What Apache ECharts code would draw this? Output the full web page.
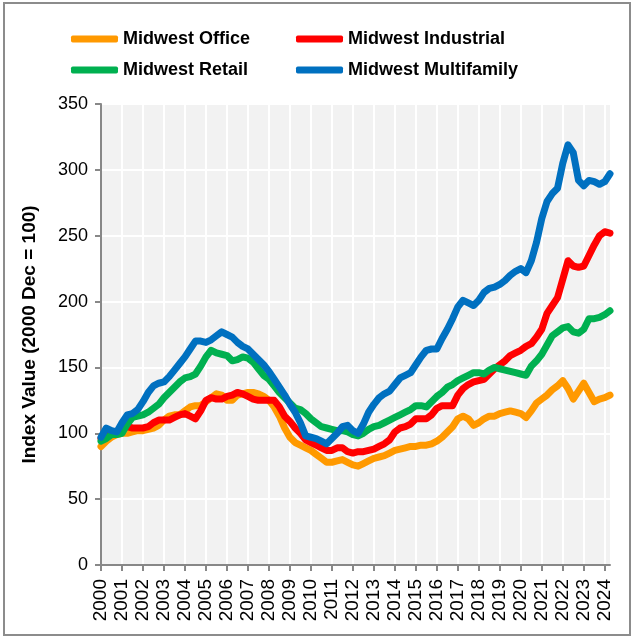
<!DOCTYPE html>
<html>
<head>
<meta charset="utf-8">
<script src="https://cdn.jsdelivr.net/npm/echarts@6/dist/echarts.min.js"></script>
<style>
  html, body { margin: 0; padding: 0; background: #fff; }
  #chart { width: 634px; height: 639px; }
</style>
</head>
<body>
<div id="chart"></div>
<script>
// 年份刻度（每年 4 个季度）
const years = ['2000','2001','2002','2003','2004','2005','2006','2007','2008','2009','2010','2011','2012',
  '2013','2014','2015','2016','2017','2018','2019','2020','2021','2022','2023','2024']

// 季度分类：2000Q1 ~ 2024Q2
const quarters = []
years.forEach(y => { for (let q = 1; q <= 4; q++) quarters.push(y + 'Q' + q) })
quarters.length = 98

const officeData = [90,94,97,99,100,100,101,102,102,103,
  104,106,110,113,114,114,117,120,121,121,
  124,127,130,129,125,125,129,130,131,131,
  130,128,125,120,113,104,97,93,91,89,
  87,84,81,78,78,79,80,78,76,75,
  77,79,81,82,83,85,87,88,89,90,
  90,91,91,92,94,97,101,105,111,113,
  111,106,108,111,113,113,115,116,117,116,
  115,112,117,123,126,129,133,136,140,134,
  126,132,138,131,124,126,127,129]

const industrialData = [96,98,100,101,103,105,104,104,104,105,
  108,110,110,110,112,114,115,113,111,117,
  125,127,126,126,128,129,131,130,128,126,
  125,125,125,125,120,113,109,104,100,95,
  93,91,89,87,87,89,89,86,85,86,
  86,87,88,90,92,95,101,104,105,107,
  111,111,111,114,119,121,121,121,129,134,
  137,139,140,141,145,149,152,155,159,161,
  163,166,168,173,179,191,197,203,217,231,
  227,226,227,235,243,250,253,252]

const retailData = [94,96,99,99,100,107,112,113,114,116,
  119,122,127,131,135,139,142,143,145,151,
  158,163,161,160,159,155,156,158,157,154,
  149,144,141,136,131,127,123,119,118,115,
  111,108,105,104,103,102,102,101,99,98,
  100,103,105,106,108,110,112,114,116,118,
  121,121,120,124,128,131,135,137,140,142,
  144,146,146,145,148,150,149,148,147,146,
  145,144,151,155,160,167,174,177,180,181,
  177,176,179,187,187,188,190,193]

const multifamilyData = [97,104,102,101,108,114,115,118,124,131,
  136,138,139,143,148,153,158,164,170,170,
  169,171,174,177,175,173,169,166,164,160,
  156,152,147,141,135,129,122,116,108,98,
  97,96,94,92,96,100,105,106,102,100,
  107,116,122,127,130,132,137,142,144,146,
  152,158,163,164,164,172,179,187,196,201,
  199,197,201,207,210,211,213,216,220,223,
  225,222,231,245,263,276,282,286,305,319,
  313,292,288,292,291,289,291,297]

const seriesNames = ['Midwest Office', 'Midwest Industrial', 'Midwest Retail', 'Midwest Multifamily']
const seriesColors = ['#ff9900', '#ff0000', '#00b050', '#0070c0']

const chart = echarts.init(document.getElementById('chart'))

const font = 'Liberation Sans, Arial, sans-serif'
const yearTick = (index) => index % 4 === 0

const legendBase = {
  padding: 0,
  itemWidth: 47,
  itemHeight: 7,
  itemGap: 0,
  icon: 'roundRect',
  selectedMode: false,
  textStyle: { fontFamily: font, fontSize: 18, fontWeight: 'bold', color: '#000' }
}

const makeSeries = (i, data) => ({
  name: seriesNames[i],
  type: 'line',
  data: data,
  showSymbol: false,
  color: seriesColors[i],
  lineStyle: { width: 7, color: seriesColors[i], cap: 'round', join: 'round' }
})

const option = {
  animation: false,
  textStyle: { fontFamily: font },
  graphic: [{
    type: 'rect',
    shape: { x: 4, y: 3, width: 626, height: 632 },
    style: { fill: 'none', stroke: '#8c8c8c', lineWidth: 2 },
    silent: true
  }],
  legend: [
    { ...legendBase, data: [seriesNames[0]], left: 71, top: 30 },
    { ...legendBase, data: [seriesNames[1]], left: 296, top: 30 },
    { ...legendBase, data: [seriesNames[2]], left: 71, top: 61 },
    { ...legendBase, data: [seriesNames[3]], left: 296, top: 61 }
  ],
  grid: {
    left: 101,
    right: 24,
    top: 104,
    bottom: 74,
    show: true,
    backgroundColor: '#f2f2f2',
    borderWidth: 0
  },
  xAxis: {
    type: 'category',
    boundaryGap: false,
    data: quarters,
    axisLine: { lineStyle: { color: '#888', width: 2 } },
    axisTick: { interval: yearTick, length: 6, lineStyle: { color: '#888', width: 2 } },
    axisLabel: {
      interval: yearTick,
      rotate: 90,
      margin: 14,
      fontSize: 19,
      color: '#000',
      formatter: (v) => v.slice(0, 4)
    },
    splitLine: { show: true, interval: yearTick, lineStyle: { color: '#fff', width: 2 } }
  },
  yAxis: {
    type: 'value',
    min: 0,
    max: 350,
    interval: 50,
    name: 'Index Value (2000 Dec = 100)',
    nameLocation: 'middle',
    nameGap: 62,
    nameTextStyle: { fontSize: 19, fontWeight: 'bold', color: '#000' },
    axisLine: { show: true, lineStyle: { color: '#888', width: 2 } },
    axisTick: { show: true, length: 6, lineStyle: { color: '#888', width: 2 } },
    axisLabel: { margin: 13, fontSize: 18, color: '#000' },
    splitLine: { lineStyle: { color: '#fff', width: 2 } }
  },
  series: [
    makeSeries(0, officeData),
    makeSeries(1, industrialData),
    makeSeries(2, retailData),
    makeSeries(3, multifamilyData)
  ]
}

chart.setOption(option)
</script>
</body>
</html>
